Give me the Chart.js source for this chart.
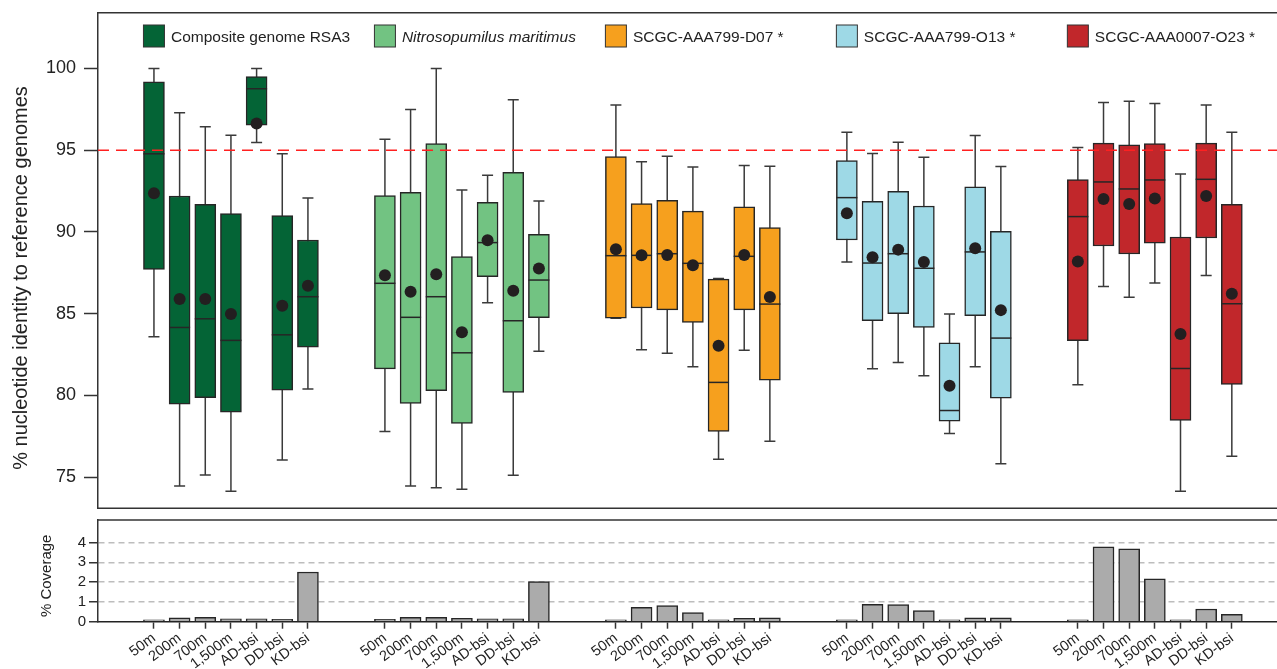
<!DOCTYPE html>
<html>
<head>
<meta charset="utf-8">
<script src="https://cdn.jsdelivr.net/npm/chart.js@4.4.1/dist/chart.umd.min.js"></script>
<style>
  html, body { margin: 0; padding: 0; background: #fff; }
  #wrap { position: relative; width: 1277px; height: 669px; overflow: hidden; }
  #top { position: absolute; left: 0; top: 0; }
  #bottom { position: absolute; left: 0; top: 515px; }
</style>
</head>
<body>
<div id="wrap">
  <canvas id="top" width="1277" height="515"></canvas>
  <canvas id="bottom" width="1277" height="154"></canvas>
</div>
<script>
const genomes = ["Composite genome RSA3", "Nitrosopumilus maritimus", "SCGC-AAA799-D07 *", "SCGC-AAA799-O13 *", "SCGC-AAA0007-O23 *"];
const samples = ["50m", "200m", "700m", "1,500m", "AD-bsi", "DD-bsi", "KD-bsi"];
const genomeColors = ["#046436", "#72c382", "#f6a01e", "#9ed9e6", "#c1272b"];
const identityTicks = [75, 80, 85, 90, 95, 100];
const coverageTicks = [0, 1, 2, 3, 4];
const threshold = 95;

// [lower whisker, q1, median, q3, upper whisker] per sample
const rsa3Boxes = [[83.59, 87.71, 94.78, 99.18, 100], [74.47, 79.47, 84.16, 92.2, 97.29], [75.14, 79.86, 84.69, 91.69, 96.43], [74.14, 78.98, 83.37, 91.12, 95.92], [95.47, 96.53, 98.76, 99.51, 100], [76.06, 80.33, 83.71, 91.0, 94.78], [80.39, 82.96, 86.04, 89.51, 92.08]];
const nmarBoxes = [[77.8, 81.63, 86.86, 92.22, 95.67], [74.47, 79.51, 84.78, 92.43, 97.49], [74.35, 80.29, 86.04, 95.41, 100], [74.27, 78.29, 82.61, 88.49, 92.57], [85.67, 87.27, 89.35, 91.82, 93.47], [75.12, 80.18, 84.57, 93.65, 98.08], [82.71, 84.76, 87.06, 89.86, 91.9]];
const d07Boxes = [[84.73, 84.73, 88.55, 94.61, 97.76], [82.8, 85.35, 88.57, 91.73, 94.29], [82.59, 85.24, 88.67, 91.94, 94.63], [81.76, 84.47, 88.08, 91.27, 93.98], [76.1, 77.8, 80.8, 87.12, 87.16], [82.76, 85.24, 88.51, 91.53, 94.06], [77.2, 80.94, 85.59, 90.27, 94.02]];
const o13Boxes = [[88.16, 89.51, 92.1, 94.37, 96.1], [81.63, 84.57, 88.1, 91.88, 94.8], [82.02, 85.0, 88.67, 92.49, 95.49], [81.2, 84.16, 87.78, 91.59, 94.57], [77.67, 78.43, 79.08, 83.22, 84.98], [81.76, 84.88, 88.78, 92.76, 95.9], [75.82, 79.84, 83.51, 90.04, 94.0]];
const o23Boxes = [[80.65, 83.35, 90.94, 93.2, 95.16], [86.67, 89.14, 93.06, 95.43, 97.92], [86.0, 88.65, 92.63, 95.33, 98.0], [86.88, 89.31, 93.18, 95.41, 97.86], [74.14, 78.47, 81.65, 89.69, 93.55], [87.33, 89.63, 93.22, 95.43, 97.76], [76.29, 80.67, 85.61, 91.69, 96.1]];

const rsa3Means = [92.37, 85.9, 85.9, 84.98, 96.63, 85.49, 86.71];
const nmarMeans = [87.35, 86.35, 87.41, 83.86, 89.49, 86.41, 87.76];
const d07Means = [88.94, 88.57, 88.59, 87.96, 83.04, 88.59, 86.02];
const o13Means = [91.14, 88.45, 88.92, 88.16, 80.59, 89.0, 85.22];
const o23Means = [88.2, 92.02, 91.71, 92.04, 83.76, 92.2, 86.22];

const rsa3Cov = [0.1, 0.2, 0.22, 0.15, 0.15, 0.12, 2.51];
const nmarCov = [0.12, 0.22, 0.22, 0.17, 0.14, 0.14, 2.03];
const d07Cov = [0.1, 0.73, 0.81, 0.46, 0.1, 0.17, 0.2];
const o13Cov = [0.1, 0.88, 0.86, 0.56, 0.1, 0.2, 0.2];
const o23Cov = [0.1, 3.78, 3.68, 2.17, 0.1, 0.64, 0.37];

const allBoxes = [rsa3Boxes, nmarBoxes, d07Boxes, o13Boxes, o23Boxes];
const allMeans = [rsa3Means, nmarMeans, d07Means, o13Means, o23Means];
const allCov = [rsa3Cov, nmarCov, d07Cov, o13Cov, o23Cov];

// 7 boxes per genome, 2 empty slots between genomes
const slot = (g, i) => g * 9 + i;
const xMin = -2.18;
const xMax = 43.76;
const positions = [];
genomes.forEach((_, g) => samples.forEach((_, i) => positions.push(slot(g, i))));

Chart.defaults.font.family = "'Liberation Sans', Arial, sans-serif";
Chart.defaults.color = "#222";

const ink = "#262626";

// keep the plot area exactly where the layout padding puts it
const noScalePadding = (scale) => {
  scale.paddingTop = 0;
  scale.paddingBottom = 0;
  scale.paddingLeft = 0;
  scale.paddingRight = 0;
};

const boxExtras = {
  id: "boxExtras",
  beforeDatasetsDraw(chart) {
    const { ctx, scales: { x, y } } = chart;
    ctx.save();
    ctx.strokeStyle = "#3a3a3a";
    ctx.lineWidth = 1.5;
    allBoxes.forEach((boxes, g) => {
      boxes.forEach((s, i) => {
        const px = x.getPixelForValue(slot(g, i));
        const lo = y.getPixelForValue(s[0]);
        const hi = y.getPixelForValue(s[4]);
        ctx.beginPath();
        ctx.moveTo(px, lo);
        ctx.lineTo(px, hi);
        ctx.moveTo(px - 5.5, lo);
        ctx.lineTo(px + 5.5, lo);
        ctx.moveTo(px - 5.5, hi);
        ctx.lineTo(px + 5.5, hi);
        ctx.stroke();
      });
    });
    ctx.restore();
  },
  afterDatasetDraw(chart, args) {
    if (args.meta.type !== "bar") return;
    const { ctx, scales: { y } } = chart;
    const boxes = allBoxes[args.index - 1];
    if (!boxes) return;
    ctx.save();
    ctx.strokeStyle = ink;
    ctx.lineWidth = 1.5;
    args.meta.data.forEach((el, i) => {
      const py = y.getPixelForValue(boxes[i][2]);
      ctx.beginPath();
      ctx.moveTo(el.x - el.width / 2, py);
      ctx.lineTo(el.x + el.width / 2, py);
      ctx.stroke();
    });
    ctx.restore();
  },
  afterDatasetsDraw(chart) {
    const { ctx, chartArea: a, scales: { y } } = chart;
    const py = y.getPixelForValue(threshold);
    ctx.save();
    ctx.strokeStyle = "#ff2020";
    ctx.lineWidth = 1.5;
    ctx.setLineDash([11, 7]);
    ctx.beginPath();
    ctx.moveTo(a.left, py);
    ctx.lineTo(a.right, py);
    ctx.stroke();
    ctx.restore();
  },
  afterDraw(chart) {
    const { ctx, chartArea: a, scales: { x } } = chart;
    ctx.save();
    // frame
    ctx.strokeStyle = "#333";
    ctx.lineWidth = 1.5;
    ctx.beginPath();
    ctx.moveTo(a.left, a.top);
    ctx.lineTo(a.right, a.top);
    ctx.moveTo(a.left, a.bottom);
    ctx.lineTo(a.right, a.bottom);
    ctx.stroke();
    // legend, each key above the first box of its genome
    genomes.forEach((name, g) => {
      const cx = x.getPixelForValue(slot(g, 0));
      ctx.fillStyle = genomeColors[g];
      ctx.fillRect(cx - 10.5, 25, 21, 22);
      ctx.strokeStyle = "#333";
      ctx.lineWidth = 1;
      ctx.strokeRect(cx - 10.5, 25, 21, 22);
      ctx.fillStyle = "#222";
      ctx.font = (g === 1 ? "italic " : "") + "15.5px 'Liberation Sans', Arial, sans-serif";
      ctx.textBaseline = "middle";
      ctx.textAlign = "left";
      ctx.fillText(name, cx + 17, 38);
    });
    // y title
    ctx.translate(21, 278);
    ctx.rotate(-Math.PI / 2);
    ctx.textAlign = "center";
    ctx.textBaseline = "middle";
    ctx.font = "20px 'Liberation Sans', Arial, sans-serif";
    ctx.fillText("% nucleotide identity to reference genomes", 0, 0);
    ctx.restore();
  }
};

const boxDatasets = genomes.map((name, g) => ({
  type: "bar",
  label: name,
  data: allBoxes[g].map((s, i) => ({ x: slot(g, i), y: [s[1], s[3]] })),
  backgroundColor: genomeColors[g],
  borderColor: ink,
  borderWidth: 1.5,
  borderSkipped: false,
  barThickness: 21,
  grouped: false,
  order: 1,
}));

const meanDataset = {
  type: "scatter",
  label: "mean",
  data: allMeans.flatMap((m, g) => m.map((v, i) => ({ x: slot(g, i), y: v }))),
  pointRadius: 6,
  pointHoverRadius: 6,
  backgroundColor: "#231f20",
  borderWidth: 0,
  order: 0,
};

new Chart(document.getElementById("top"), {
  type: "bar",
  data: { datasets: [meanDataset, ...boxDatasets] },
  options: {
    responsive: false,
    animation: false,
    devicePixelRatio: 1,
    layout: { autoPadding: false, padding: { top: 12.7, bottom: 6.7, left: 0, right: 0 } },
    plugins: { legend: { display: false }, tooltip: { enabled: false } },
    scales: {
      x: { type: "linear", min: xMin, max: xMax, offset: false, display: false },
      y: {
        min: 73.1,
        max: 103.41,
        afterBuildTicks: (scale) => { scale.ticks = identityTicks.map((v) => ({ value: v })); },
        afterFit: (scale) => { scale.width = 98; noScalePadding(scale); },
        ticks: { font: { size: 18 }, color: "#222", padding: 8 },
        grid: { drawOnChartArea: false, tickLength: 14, tickColor: "#333", tickWidth: 1.5 },
        border: { color: "#333", width: 1.5 },
      },
    },
  },
  plugins: [boxExtras],
});

const coverageExtras = {
  id: "coverageExtras",
  afterDraw(chart) {
    const { ctx, chartArea: a } = chart;
    ctx.save();
    ctx.strokeStyle = "#333";
    ctx.lineWidth = 1.5;
    ctx.beginPath();
    ctx.moveTo(a.left, a.top);
    ctx.lineTo(a.right, a.top);
    ctx.stroke();
    ctx.translate(47, (a.top + a.bottom) / 2 + 5);
    ctx.rotate(-Math.PI / 2);
    ctx.fillStyle = "#222";
    ctx.textAlign = "center";
    ctx.textBaseline = "middle";
    ctx.font = "15px 'Liberation Sans', Arial, sans-serif";
    ctx.fillText("% Coverage", 0, 0);
    ctx.restore();
  }
};

new Chart(document.getElementById("bottom"), {
  type: "bar",
  data: {
    datasets: genomes.map((name, g) => ({
      label: name,
      data: allCov[g].map((v, i) => ({ x: slot(g, i), y: v })),
      backgroundColor: "#ababab",
      borderColor: ink,
      borderWidth: 1.5,
      barThickness: 21,
      grouped: false,
    })),
  },
  options: {
    responsive: false,
    animation: false,
    devicePixelRatio: 1,
    layout: { autoPadding: false, padding: { top: 5, bottom: 0, left: 0, right: 0 } },
    plugins: { legend: { display: false }, tooltip: { enabled: false } },
    scales: {
      x: {
        type: "linear",
        min: xMin,
        max: xMax,
        offset: false,
        afterBuildTicks: (scale) => { scale.ticks = positions.map((v) => ({ value: v })); },
        afterFit: (scale) => { scale.height = 47.3; noScalePadding(scale); },
        ticks: {
          autoSkip: false,
          minRotation: 37,
          maxRotation: 37,
          padding: 1,
          font: { size: 14.5 },
          color: "#222",
          callback: (v) => samples[Math.round(v) % 9],
        },
        grid: { offset: false, drawOnChartArea: false, tickLength: 7, tickColor: "#333", tickWidth: 1.5 },
        border: { color: "#222", width: 1.5 },
      },
      y: {
        min: 0,
        max: 5.14,
        afterBuildTicks: (scale) => { scale.ticks = coverageTicks.map((v) => ({ value: v })); },
        afterFit: (scale) => { scale.width = 98; noScalePadding(scale); },
        ticks: { font: { size: 15 }, color: "#222", padding: 3 },
        grid: {
          color: (c) => (c.tick && c.tick.value === 0 ? "rgba(0,0,0,0)" : "#bdbdbd"),
          lineWidth: 1.5,
          tickLength: 9,
          tickColor: "#333",
          tickWidth: 1.5,
          tickBorderDash: [],
        },
        border: { color: "#333", width: 1.5, dash: [6, 4] },
      },
    },
  },
  plugins: [coverageExtras],
});
</script>
</body>
</html>
